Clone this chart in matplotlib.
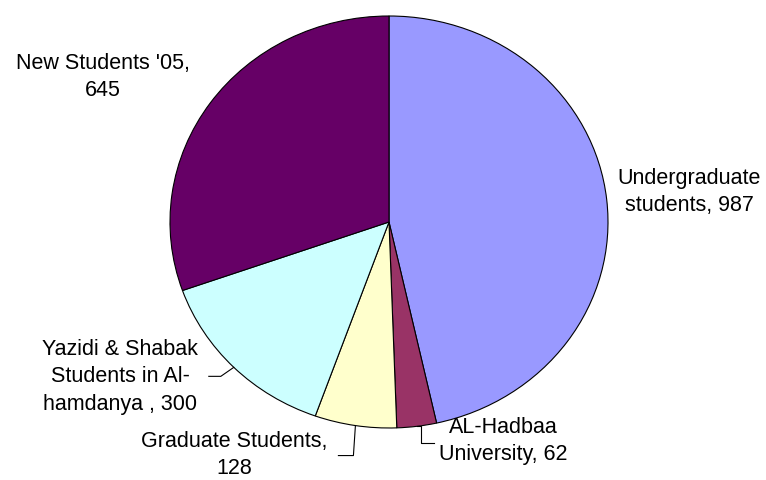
import matplotlib
matplotlib.use('Agg')

import matplotlib.pyplot as plt
import numpy as np

# ---------------------------
# DONNÉES
# ---------------------------
categories = ['Undergraduate\nstudents', 'AL-Hadbaa\nUniversity', 'Graduate Students,\n',
              'Yazidi & Shabak\nStudents in Al-\nhamdanya ', "New Students '05,\n"]
values = [987, 62, 128, 300, 645]
colors = ['#9999FF', '#993366', '#FFFFCC', '#CCFFFF', '#660066']

# ---------------------------
# MISE EN PAGE (pixels, origine en haut à gauche)
# ---------------------------
W, H = 766, 480
CX, CY = 389, 222      # centre du camembert
RX, RY = 219, 206      # rayons (légèrement elliptique, comme Excel)

label_pos = [(689, 192), (503, 441), (234, 455), (120, 377), (103, 77)]
# coudes des traits de rappel, relatifs au point sur le bord
leaders = {1: [(0, 0), (4, 0), (4, 17), (17, 17)],
           2: [(0, 0), (-2, 30), (-17, 30)],
           3: [(0, 0), (-13, 9), (-25, 9)]}


def to_data(x, y):
    return (x - CX) / RX, (CY - y) / RY


def to_px(x, y):
    return CX + x * RX, CY - y * RY


fig = plt.figure(figsize=(W / 100, H / 100), dpi=100)
ax = fig.add_axes([0, 0, 1, 1])

wedges, _ = ax.pie(values, colors=colors, startangle=90, counterclock=False,
                   wedgeprops=dict(edgecolor='black', linewidth=0.8))
ax.set_aspect('auto')
ax.set_xlim(to_data(0, 0)[0], to_data(W, 0)[0])
ax.set_ylim(to_data(0, H)[1], to_data(0, 0)[1])
ax.axis('off')

for i, (cat, v) in enumerate(zip(categories, values)):
    sep = '' if cat.endswith('\n') else ', '
    txt = cat + sep + str(v)
    tx, ty = to_data(*label_pos[i])
    ax.text(tx, ty, txt, ha='center', va='center', fontsize=15.5,
            family='Liberation Sans', color='black', linespacing=1.4)

    if i in leaders:
        w = wedges[i]
        mid = np.deg2rad((w.theta1 + w.theta2) / 2)
        ex, ey = to_px(np.cos(mid), np.sin(mid))
        pts = [to_data(ex + dx, ey + dy) for dx, dy in leaders[i]]
        ax.plot([p[0] for p in pts], [p[1] for p in pts], color='black', lw=0.8)

fig.savefig('out.png', dpi=100)
